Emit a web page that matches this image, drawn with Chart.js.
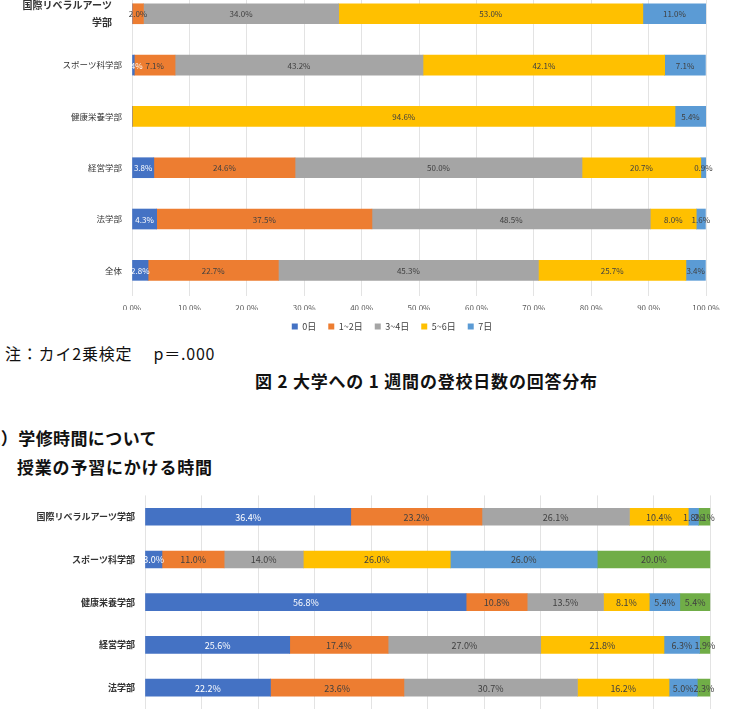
<!DOCTYPE html>
<html>
<head>
<meta charset="utf-8">
<script src="https://cdn.jsdelivr.net/npm/chart.js@4.4.1/dist/chart.umd.min.js"></script>
<style>
  html, body { margin: 0; padding: 0; background: #fff; }
  body { width: 731px; height: 711px; position: relative; overflow: hidden; font-family: 'Noto Sans CJK JP', sans-serif; color: #111; }
  .box { position: absolute; }
  .txt { position: absolute; white-space: nowrap; line-height: 1; }
</style>
</head>
<body>
<div class="box" style="left:0; top:-27px; width:731px; height:368px;"><canvas id="attendChart"></canvas></div>

<div class="txt" style="left:5px; top:345px; font-size:16px; letter-spacing:0.8px;">注：カイ2乗検定　 p＝.000</div>
<div class="txt" style="left:255px; top:371.5px; font-size:17px; font-weight:700; letter-spacing:0.8px;">図 2 大学への 1 週間の登校日数の回答分布</div>
<div class="txt" style="left:-27px; top:428.5px; font-size:17px; font-weight:700; letter-spacing:0.4px;">（2）学修時間について</div>
<div class="txt" style="left:17px; top:457.5px; font-size:17px; font-weight:700; letter-spacing:0.8px;">授業の予習にかける時間</div>

<div class="box" style="left:0; top:480px; width:731px; height:270px;"><canvas id="studyChart"></canvas></div>

<script>
// 図2 登校日数（%）
const attendFaculties = [['国際リベラルアーツ　', '学部　'], 'スポーツ科学部', '健康栄養学部', '経営学部', '法学部', '全体'];
const attendSeries = ['0日', '1~2日', '3~4日', '5~6日', '7日'];
const attend0 = [0, 0.4, 0, 3.8, 4.3, 2.8];
const attend12 = [2.0, 7.1, 0, 24.6, 37.5, 22.7];
const attend34 = [34.0, 43.2, 0, 50.0, 48.5, 45.3];
const attend56 = [53.0, 42.1, 94.6, 20.7, 8.0, 25.7];
const attend7 = [11.0, 7.1, 5.4, 0.9, 1.6, 3.4];

// 授業の予習にかける時間（%）
const studyFaculties = ['国際リベラルアーツ学部', 'スポーツ科学部', '健康栄養学部', '経営学部', '法学部'];
const studySeries = ['系列1', '系列2', '系列3', '系列4', '系列5', '系列6'];
const study1 = [36.4, 3.0, 56.8, 25.6, 22.2];
const study2 = [23.2, 11.0, 10.8, 17.4, 23.6];
const study3 = [26.1, 14.0, 13.5, 27.0, 30.7];
const study4 = [10.4, 26.0, 8.1, 21.8, 16.2];
const study5 = [1.8, 26.0, 5.4, 6.3, 5.0];
const study6 = [2.1, 20.0, 5.4, 1.9, 2.3];

const colors = ['#4472C4', '#ED7D31', '#A5A5A5', '#FFC000', '#5B9BD5', '#70AD47'];

Chart.defaults.font.family = "'Noto Sans CJK JP', sans-serif";
Chart.defaults.animation = false;

// 各セグメントの中央に値を書く
const barLabels = {
  id: 'barLabels',
  afterDatasetsDraw(chart, args, opts) {
    const ctx = chart.ctx;
    ctx.save();
    ctx.font = opts.size + "px 'Noto Sans CJK JP', sans-serif";
    ctx.textAlign = 'center';
    ctx.textBaseline = 'middle';
    chart.data.datasets.forEach((ds, i) => {
      const meta = chart.getDatasetMeta(i);
      meta.data.forEach((bar, j) => {
        const v = ds.data[j];
        if (!v) return;
        const p = bar.getProps(['x', 'y', 'base'], true);
        ctx.fillStyle = i === 0 ? '#ffffff' : '#404040';
        ctx.fillText(v.toFixed(1) + '%', (p.x + p.base) / 2, p.y + 0.5);
      });
    });
    ctx.restore();
  }
};

// 凡例を元の図と同じ位置に寄せる
const legendShift = {
  id: 'legendShift',
  afterLayout(chart) {
    const lg = chart.legend;
    lg.left = 78;
    lg.right = 706;
    lg.width = lg.right - lg.left;
  }
};

function makeSets(series, values, thickness) {
  return series.map((name, i) => ({
    label: name,
    data: values[i],
    backgroundColor: colors[i],
    borderWidth: 0,
    barThickness: thickness
  }));
}

new Chart(document.getElementById('attendChart'), {
  type: 'bar',
  data: {
    labels: attendFaculties,
    datasets: makeSets(attendSeries, [attend0, attend12, attend34, attend56, attend7], 20)
  },
  plugins: [barLabels, legendShift],
  options: {
    indexAxis: 'y',
    responsive: true,
    maintainAspectRatio: false,
    layout: { padding: { left: 0, right: 25, top: 0, bottom: 0 } },
    scales: {
      x: {
        stacked: true,
        min: 0,
        max: 100,
        ticks: { stepSize: 10, padding: 7, color: '#595959', font: { size: 8 },
          callback: v => v.toFixed(1) + '%' },
        grid: { color: '#e3e3e3', drawTicks: false },
        border: { display: false },
        afterFit: s => { s.height = 14; }
      },
      y: {
        stacked: true,
        ticks: {
          padding: 10,
          color: '#333',
          font: c => c.index === 0 ? { size: 10, weight: 'bold', lineHeight: 1.7 } : { size: 8.5 }
        },
        grid: { display: false, drawTicks: false },
        border: { display: false },
        afterFit: s => { s.width = 132; }
      }
    },
    plugins: {
      legend: {
        position: 'bottom',
        fullSize: false,
        labels: { boxWidth: 6, boxHeight: 6, padding: 12, color: '#404040', font: { size: 9 } }
      },
      tooltip: { enabled: false },
      barLabels: { size: 8 }
    }
  }
});

new Chart(document.getElementById('studyChart'), {
  type: 'bar',
  data: {
    labels: studyFaculties,
    datasets: makeSets(studySeries, [study1, study2, study3, study4, study5, study6], 17)
  },
  plugins: [barLabels],
  options: {
    indexAxis: 'y',
    responsive: true,
    maintainAspectRatio: false,
    layout: { padding: { left: 0, right: 11, top: 5.5, bottom: 0 } },
    scales: {
      x: {
        stacked: true,
        min: 0,
        max: 100,
        ticks: { stepSize: 10, padding: 7, color: '#595959', font: { size: 8 },
          callback: v => v.toFixed(1) + '%' },
        grid: { color: '#e3e3e3', drawTicks: false },
        border: { display: false },
        afterFit: s => { s.height = 41; }
      },
      y: {
        stacked: true,
        ticks: { padding: 10, color: '#333', font: { size: 9, weight: 'bold' } },
        grid: { display: false, drawTicks: false },
        border: { display: false },
        afterFit: s => { s.width = 145; }
      }
    },
    plugins: {
      legend: { display: false },
      tooltip: { enabled: false },
      barLabels: { size: 9 }
    }
  }
});
</script>
</body>
</html>
